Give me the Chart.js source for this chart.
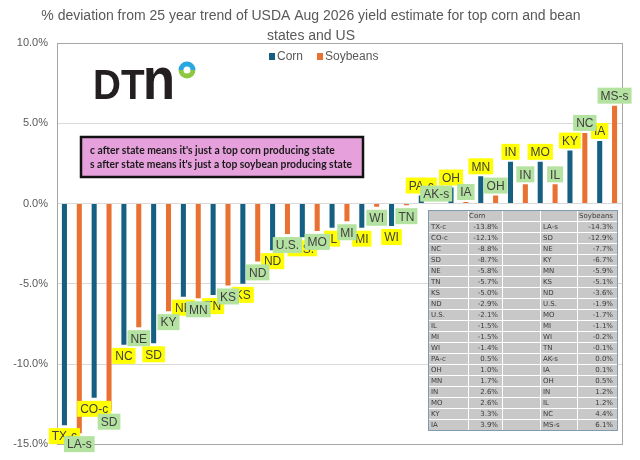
<!DOCTYPE html>
<html>
<head>
<meta charset="utf-8">
<script src="https://cdn.jsdelivr.net/npm/chart.js"></script>
<style>
  body { margin: 0; background: #fff; }
</style>
</head>
<body>
<canvas id="chart" width="640" height="460"></canvas>
<script>
const titleLines = [
  "% deviation from 25 year trend of USDA Aug 2026 yield estimate for top corn and bean",
  "states and US"
];
const noteLines = [
  "c after state means it's just a top corn producing state",
  "s after state means it's just a top soybean producing state"
];

// pairs: each position holds the n-th ranked corn state and the n-th ranked soybean state
const cornStates = ["TX-c", "CO-c", "NC", "SD", "NE", "TN", "KS", "ND", "U.S.", "IL", "MI", "WI", "PA-c", "OH", "MN", "IN", "MO", "KY", "IA"];
const cornValues = [-13.8, -12.1, -8.8, -8.7, -5.8, -5.7, -5.0, -2.9, -2.1, -1.5, -1.5, -1.4, 0.5, 1.0, 1.7, 2.6, 2.6, 3.3, 3.9];
const soyStates = ["LA-s", "SD", "NE", "KY", "MN", "KS", "ND", "U.S.", "MO", "MI", "WI", "TN", "AK-s", "IA", "OH", "IN", "IL", "NC", "MS-s"];
const soyValues = [-14.3, -12.9, -7.7, -6.7, -5.9, -5.1, -3.6, -1.9, -1.7, -1.1, -0.2, -0.1, 0.0, 0.1, 0.5, 1.2, 1.2, 4.4, 6.1];

const yMin = -15, yMax = 10, yStep = 5;

const FONT = "'Liberation Sans', Arial, sans-serif";
const pct = v => v.toFixed(1) + "%";

// plot area frame
const frame = {
  id: "frame",
  beforeDatasetsDraw(chart) {
    const a = chart.chartArea, ctx = chart.ctx;
    ctx.save();
    ctx.strokeStyle = "#A6A6A6";
    ctx.lineWidth = 1;
    ctx.strokeRect(Math.round(a.left) + 0.5, Math.round(a.top) + 0.5,
      Math.round(a.right - a.left), Math.round(a.bottom - a.top));
    ctx.restore();
  }
};

// DTN logo + legend + pink note box
const decor = {
  id: "decor",
  beforeDatasetsDraw(chart) {
    const ctx = chart.ctx;
    ctx.save();

    // logo
    ctx.fillStyle = "#231F20";
    ctx.textBaseline = "alphabetic";
    ctx.font = "bold 43px " + FONT;
    const wD = ctx.measureText("DT").width;
    ctx.font = "bold 59px " + FONT;
    const wN = ctx.measureText("n").width;
    const sx = 84 / (wD + wN);
    ctx.save();
    ctx.translate(93, 99);
    ctx.scale(sx, 1);
    ctx.font = "bold 43px " + FONT;
    ctx.fillText("DT", 0, 0);
    ctx.font = "bold 59px " + FONT;
    ctx.fillText("n", wD - 2, 0);
    ctx.restore();
    ctx.lineWidth = 5;
    ctx.strokeStyle = "#29A8E0";
    ctx.beginPath(); ctx.arc(187, 70, 6, Math.PI, 2 * Math.PI); ctx.stroke();
    ctx.strokeStyle = "#8DC63F";
    ctx.beginPath(); ctx.arc(187, 70, 6, 0, Math.PI); ctx.stroke();

    // legend
    let x = 269;
    ctx.font = "12px " + FONT;
    ctx.textBaseline = "middle";
    chart.data.datasets.forEach(ds => {
      ctx.fillStyle = ds.backgroundColor;
      ctx.fillRect(x, 53, 6, 7);
      ctx.fillStyle = "#595959";
      ctx.fillText(ds.label, x + 8, 57);
      x += 8 + ctx.measureText(ds.label).width + 14;
    });

    // note box
    ctx.fillStyle = "#E6A1DC";
    ctx.fillRect(81, 137, 282, 40);
    ctx.strokeStyle = "#111";
    ctx.lineWidth = 2.5;
    ctx.strokeRect(81, 137, 282, 40);
    ctx.fillStyle = "#1a1a1a";
    ctx.font = "bold 12px Lato, " + FONT;
    const ns = 262 / ctx.measureText(noteLines[1]).width;
    noteLines.forEach((t, i) => {
      ctx.save();
      ctx.translate(90, 150 + i * 14);
      ctx.scale(ns, 1);
      ctx.fillText(t, 0, 0);
      ctx.restore();
    });
    ctx.restore();
  }
};

// table of values inside the plot
const table = {
  id: "table",
  afterDatasetsDraw(chart) {
    const ctx = chart.ctx;
    const tx = 428, ty = 210, rowH = 11;
    const colW = [40, 34, 38, 37, 40];
    const tw = colW.reduce((s, w) => s + w, 0);
    const nRows = cornStates.length + 1;
    const th = nRows * rowH;
    ctx.save();
    ctx.fillStyle = "#C8C8C8";
    ctx.fillRect(tx, ty, tw, th);
    ctx.strokeStyle = "#FFFFFF";
    ctx.lineWidth = 1;
    ctx.beginPath();
    let cx = tx;
    colW.slice(0, -1).forEach(w => { cx += w; ctx.moveTo(cx + 0.5, ty); ctx.lineTo(cx + 0.5, ty + th); });
    for (let r = 1; r < nRows; r++) {
      ctx.moveTo(tx, ty + r * rowH + 0.5); ctx.lineTo(tx + tw, ty + r * rowH + 0.5);
    }
    ctx.stroke();
    ctx.strokeStyle = "#7F9BB0";
    ctx.strokeRect(tx + 0.5, ty + 0.5, tw, th);

    const edges = [tx];
    colW.forEach(w => edges.push(edges[edges.length - 1] + w));
    ctx.fillStyle = "#3a3a3a";
    ctx.font = "7px 'DejaVu Sans', sans-serif";
    ctx.textBaseline = "middle";
    const cy = r => ty + r * rowH + rowH / 2 + 0.5;
    ctx.textAlign = "left";
    ctx.fillText("Corn", edges[1] + 1, cy(0));
    ctx.textAlign = "right";
    ctx.fillText("Soybeans", edges[5] - 4, cy(0));
    cornStates.forEach((s, i) => {
      ctx.textAlign = "left";
      ctx.fillText(s, edges[0] + 3, cy(i + 1));
      ctx.fillText(soyStates[i], edges[3] + 3, cy(i + 1));
      ctx.textAlign = "right";
      ctx.fillText(pct(cornValues[i]), edges[2] - 4, cy(i + 1));
      ctx.fillText(pct(soyValues[i]), edges[5] - 4, cy(i + 1));
    });
    ctx.restore();
  }
};

// state name boxes at the end of each bar
const barLabels = {
  id: "barLabels",
  afterDatasetsDraw(chart) {
    const ctx = chart.ctx;
    ctx.save();
    ctx.font = "12px " + FONT;
    ctx.textAlign = "center";
    ctx.textBaseline = "middle";
    chart.data.datasets.forEach((ds, di) => {
      chart.getDatasetMeta(di).data.forEach((bar, i) => {
        const txt = ds.names[i];
        const y = ds.data[i] >= 0 ? bar.y - 10 : bar.y + 11;
        const w = ctx.measureText(txt).width + 6;
        ctx.fillStyle = ds.boxColor;
        ctx.fillRect(bar.x - w / 2, y - 8, w, 16);
        ctx.fillStyle = "#404040";
        ctx.fillText(txt, bar.x, y + 1);
      });
    });
    ctx.restore();
  }
};

new Chart(document.getElementById("chart"), {
  type: "bar",
  data: {
    labels: cornStates.map((c, i) => c + " / " + soyStates[i]),
    datasets: [
      { label: "Corn", data: cornValues, names: cornStates, backgroundColor: "#156082", boxColor: "#FFFF00",
        categoryPercentage: 1.0, barPercentage: 0.34 },
      { label: "Soybeans", data: soyValues, names: soyStates, backgroundColor: "#E97132", boxColor: "#B4E2A0",
        categoryPercentage: 1.0, barPercentage: 0.34 }
    ]
  },
  options: {
    responsive: false,
    animation: false,
    devicePixelRatio: 1,
    layout: { padding: { left: 0, right: 18, top: 0, bottom: 15 } },
    plugins: {
      legend: { display: false },
      tooltip: { enabled: false },
      title: {
        display: true,
        text: titleLines,
        color: "#595959",
        font: { family: FONT, size: 14, weight: "normal", lineHeight: 1.43 },
        padding: { top: 6, bottom: -3 }
      }
    },
    scales: {
      x: {
        ticks: { display: false },
        grid: { display: false, drawTicks: false },
        border: { color: "#A6A6A6" }
      },
      y: {
        min: yMin, max: yMax,
        ticks: { stepSize: yStep, callback: v => pct(v), color: "#595959", font: { family: FONT, size: 11 }, padding: 9 },
        grid: { color: "#D9D9D9", drawTicks: false },
        border: { color: "#A6A6A6" },
        afterFit(s) { s.width = 57; }
      }
    }
  },
  plugins: [frame, decor, table, barLabels]
});
</script>
</body>
</html>
